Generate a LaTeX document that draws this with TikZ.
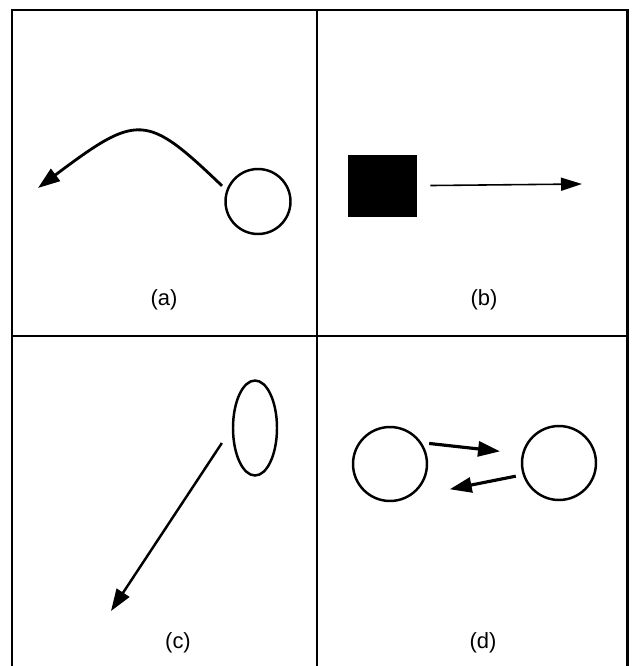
\documentclass[tikz,border=0pt]{standalone}
\usepackage{fontspec}
\usetikzlibrary{arrows.meta, positioning, shapes.geometric}
\newfontfamily\panelfont{Liberation Sans}

\begin{document}
\begin{tikzpicture}[
  x=0.02cm, y=-0.02cm,
  >={Triangle[length=4.4mm, width=3.0mm]},
  frame/.style={line width=1.7pt, black},
  divider/.style={line width=1.4pt, black},
  ball/.style={circle, draw, line width=1.4pt, minimum size=#1, inner sep=0pt},
  blob/.style={ellipse, draw, line width=1.4pt, minimum width=0.88cm,
    minimum height=1.9cm, inner sep=0pt},
  tag/.style={font=\panelfont\fontsize{12.5}{15}\selectfont},
  arr/.style={->, line width=1.6pt},
  thinarr/.style={-{Triangle[length=4.2mm, width=2.6mm]}, line width=0.9pt},
]

\useasboundingbox (0,0) rectangle (632,666);

% Frame and dividers
\draw[frame] (12,666) -- (12,10) -- (627,10) -- (627,666);
\draw[divider] (317,10) -- (317,666);
\draw[divider] (12,336) -- (627,336);

% =============================================
% (a) curved path leaving a circle
% =============================================
\node[ball=1.3cm] (ballA) at (258,201.5) {};
\coordinate (tipA) at (38,188);
\draw[arr, shorten <=0.12cm] (ballA.160) .. controls (146,113) and (138,113) .. (tipA);
\node[tag] (labA) at (164,300) {(a)};

% =============================================
% (b) square moving right
% =============================================
\node[fill=black, minimum width=1.38cm, minimum height=1.24cm, inner sep=0pt]
  (blk) at (382.5,186) {};
\coordinate (tipB) at (582,184);
\draw[thinarr, shorten <=0.26cm] (blk) -- (tipB);
\node[tag] (labB) at (484,300) {(b)};

% =============================================
% (c) ellipse with a long arrow
% =============================================
\node[blob] (blobC) at (255,428) {};
\coordinate (tipC) at (111,611);
\draw[arr, line width=1.4pt, shorten <=0.36cm] (blobC.west) -- (tipC);
\node[tag] (labC) at (178,643) {(c)};

% =============================================
% (d) two circles exchanging
% =============================================
\node[ball=1.48cm] (left) at (390,464) {};
\node[ball=1.48cm] (right) at (559,463) {};
\draw[arr, line width=1.8pt, shorten <=0.15cm, shorten >=0.44cm] (left.34) -- (right.166.6);
\draw[arr, line width=1.8pt, shorten <=0.14cm, shorten >=0.84cm] (right.198) -- (left.299);
\node[tag] (labD) at (483,643) {(d)};

\end{tikzpicture}
\end{document}
